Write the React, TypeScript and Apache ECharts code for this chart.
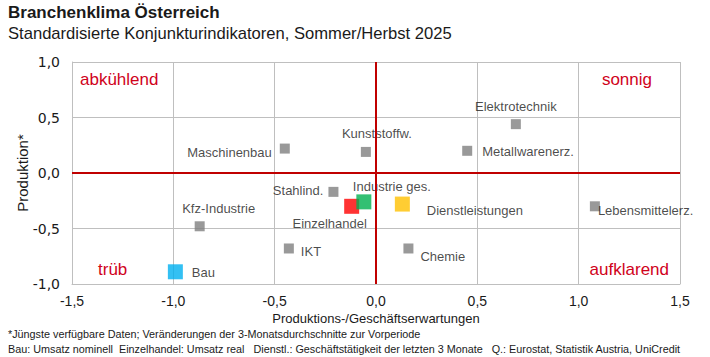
import React, { useEffect, useRef } from "react";
import * as echarts from "echarts";

const names = [
  "Maschinenbau",
  "Kunststoffw.",
  "Elektrotechnik",
  "Metallwarenerz.",
  "Stahlind.",
  "Einzelhandel",
  "Industrie ges.",
  "Dienstleistungen",
  "Lebensmittelerz.",
  "Kfz-Industrie",
  "IKT",
  "Chemie",
  "Bau",
];
const xValues = [-0.45, -0.05, 0.69, 0.45, -0.21, -0.12, -0.06, 0.13, 1.08, -0.87, -0.43, 0.16, -0.99];
const yValues = [0.22, 0.19, 0.44, 0.2, -0.17, -0.3, -0.26, -0.28, -0.3, -0.48, -0.68, -0.68, -0.89];
const highlight: Record<string, string> = {
  Einzelhandel: "#ff0000",
  "Industrie ges.": "#00b050",
  Dienstleistungen: "#ffc000",
  Bau: "#00b0f0",
};
const xTicks = [-1.5, -1, -0.5, 0, 0.5, 1, 1.5];
const yTicks = [-1, -0.5, 0, 0.5, 1];

const titleText = "Branchenklima Österreich";
const subtitleText = "Standardisierte Konjunkturindikatoren, Sommer/Herbst 2025";
const xName = "Produktions-/Geschäftserwartungen";
const yName = "Produktion*";
const footnotes = [
  "*Jüngste verfügbare Daten; Veränderungen der 3-Monatsdurchschnitte zur Vorperiode",
  "Bau: Umsatz nominell  Einzelhandel: Umsatz real   Dienstl.: Geschäftstätigkeit der letzten 3 Monate   Q.: Eurostat, Statistik Austria, UniCredit",
];
const quadrants = ["abkühlend", "sonnig", "trüb", "aufklarend"];

// label placement (style)
const labelCfg: Record<string, any> = {
  Maschinenbau: { position: "left", distance: 8, offset: [0, 4] },
  "Kunststoffw.": { position: "top", distance: 7, offset: [11, 0] },
  Elektrotechnik: { position: "top", distance: 6, offset: [0, 0] },
  "Metallwarenerz.": { position: "right", distance: 10, offset: [0, 1] },
  "Stahlind.": { position: "left", distance: 5, offset: [0, -1] },
  Einzelhandel: { position: "bottom", distance: 3, offset: [-22, 0] },
  "Industrie ges.": { position: "top", distance: 1, offset: [28, 0] },
  Dienstleistungen: { position: "right", distance: 17, offset: [0, 6] },
  "Lebensmittelerz.": { position: "right", distance: -2, offset: [0, 4] },
  "Kfz-Industrie": { position: "top", distance: 6, offset: [19, 0] },
  IKT: { position: "right", distance: 7, offset: [0, 3] },
  Chemie: { position: "right", distance: 7, offset: [0, 8] },
  Bau: { position: "right", distance: 9, offset: [0, 1] },
};

const FONT = "'Liberation Sans', sans-serif";
const RED = "#c00000";
const QRED = "#d0021b";
const fmt = (v: number) => v.toFixed(1).replace(".", ",");

export default function App() {
  const ref = useRef<HTMLDivElement>(null);
  useEffect(() => {
    if (!ref.current) return;
    const chart = echarts.init(ref.current, null, { renderer: "svg" });
    const grayData: any[] = [];
    const colorData: any[] = [];
    names.forEach((n, i) => {
      const lc = labelCfg[n] || {};
      const item = {
        name: n,
        value: [xValues[i], yValues[i]],
        label: {
          show: true,
          formatter: n,
          position: lc.position,
          distance: lc.distance,
          offset: lc.offset,
          color: "#1a1a1a",
          fontSize: 13,
          fontFamily: FONT,
        },
      };
      if (highlight[n]) {
        colorData.push({ ...item, itemStyle: { color: highlight[n] } });
      } else {
        grayData.push(item);
      }
    });
    const option: any = {
      animation: false,
      textStyle: { fontFamily: FONT },
      grid: { left: 72, right: 30, top: 62, bottom: 73 },
      xAxis: {
        type: "value",
        min: xTicks[0],
        max: xTicks[xTicks.length - 1],
        interval: 0.5,
        axisLine: { show: true, onZero: false, lineStyle: { color: "#bfbfbf", width: 1 } },
        axisTick: { show: false },
        splitLine: { show: true, lineStyle: { color: "#bfbfbf", width: 1 } },
        axisLabel: { formatter: fmt, color: "#1a1a1a", fontSize: 14, margin: 10, fontFamily: FONT },
      },
      yAxis: {
        type: "value",
        min: yTicks[0],
        max: yTicks[yTicks.length - 1],
        interval: 0.5,
        axisLine: { show: true, onZero: false, lineStyle: { color: "#bfbfbf", width: 1 } },
        axisTick: { show: false },
        splitLine: { show: true, lineStyle: { color: "#bfbfbf", width: 1 } },
        axisLabel: { formatter: fmt, color: "#1a1a1a", fontSize: 14, margin: 12, fontFamily: "'DejaVu Sans', sans-serif" },
      },
      series: [
        {
          type: "scatter",
          symbol: "rect",
          symbolSize: 10,
          itemStyle: { color: "#808080" },
          data: grayData,
          markLine: {
            silent: true,
            symbol: "none",
            label: { show: false },
            lineStyle: { color: RED, width: 2, type: "solid" },
            data: [{ xAxis: 0 }, { yAxis: 0 }],
          },
          z: 3,
        },
        {
          type: "scatter",
          symbol: "rect",
          symbolSize: 15,
          data: colorData,
          z: 4,
        },
      ],
      graphic: [
        { type: "text", left: 8, top: 4, style: { text: titleText, font: `bold 17px ${FONT}`, fill: "#1a1a1a" } },
        { type: "text", left: 8, top: 25, style: { text: subtitleText, font: `16.6px ${FONT}`, fill: "#1a1a1a" } },
        { type: "text", x: 376, y: 318, style: { text: xName, font: `13px ${FONT}`, fill: "#1a1a1a", align: "center", verticalAlign: "middle" } },
        { type: "text", x: 22, y: 173, rotation: Math.PI / 2, style: { text: yName, font: `15px ${FONT}`, fill: "#1a1a1a", align: "center", verticalAlign: "middle" } },
        { type: "text", x: 80, y: 79, style: { text: quadrants[0], font: `17px ${FONT}`, fill: QRED, verticalAlign: "middle" } },
        { type: "text", x: 652, y: 79, style: { text: quadrants[1], font: `17px ${FONT}`, fill: QRED, align: "right", verticalAlign: "middle" } },
        { type: "text", x: 98, y: 269, style: { text: quadrants[2], font: `17px ${FONT}`, fill: QRED, verticalAlign: "middle" } },
        { type: "text", x: 669, y: 269, style: { text: quadrants[3], font: `17px ${FONT}`, fill: QRED, align: "right", verticalAlign: "middle" } },
        { type: "text", x: 8, y: 334, style: { text: footnotes[0], font: `10.8px ${FONT}`, fill: "#1a1a1a", verticalAlign: "middle" } },
        { type: "text", x: 8, y: 349, style: { text: footnotes[1], font: `10.8px ${FONT}`, fill: "#1a1a1a", verticalAlign: "middle" } },
      ],
    };
    chart.setOption(option);
    return () => chart.dispose();
  }, []);
  return <div ref={ref} style={{ width: 710, height: 357, position: "absolute", left: 0, top: 0 }} />;
}
